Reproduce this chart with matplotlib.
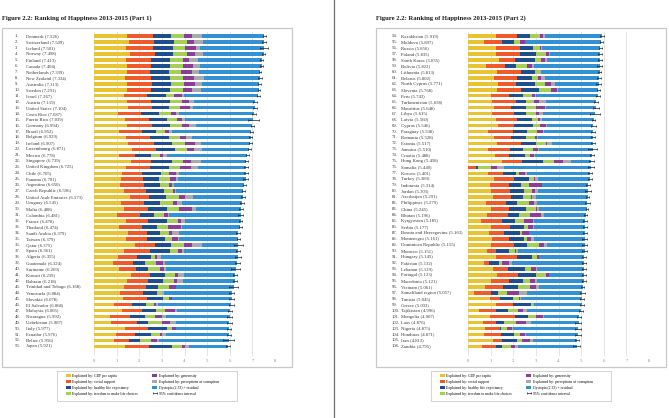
import matplotlib.pyplot as plt
from matplotlib.patches import Rectangle
from matplotlib.lines import Line2D
from matplotlib.transforms import blended_transform_factory

# data: World Happiness Report, ranking 2013-2015
countries = ['Denmark', 'Switzerland', 'Iceland', 'Norway', 'Finland', 'Canada', 'Netherlands',
             'New Zealand', 'Australia', 'Sweden', 'Israel', 'Austria', 'United States', 'Costa Rica',
             'Puerto Rico', 'Germany', 'Brazil', 'Belgium', 'Ireland', 'Luxembourg', 'Mexico',
             'Singapore', 'United Kingdom', 'Chile', 'Panama', 'Argentina', 'Czech Republic',
             'United Arab Emirates', 'Uruguay', 'Malta', 'Colombia', 'France', 'Thailand',
             'Saudi Arabia', 'Taiwan', 'Qatar', 'Spain', 'Algeria', 'Guatemala', 'Suriname', 'Kuwait',
             'Bahrain', 'Trinidad and Tobago', 'Venezuela', 'Slovakia', 'El Salvador', 'Malaysia',
             'Nicaragua', 'Uzbekistan', 'Italy', 'Ecuador', 'Belize', 'Japan',
             'Kazakhstan', 'Moldova', 'Russia', 'Poland', 'South Korea', 'Bolivia', 'Lithuania',
             'Belarus', 'North Cyprus', 'Slovenia', 'Peru', 'Turkmenistan', 'Mauritius', 'Libya',
             'Latvia', 'Cyprus', 'Paraguay', 'Romania', 'Estonia', 'Jamaica', 'Croatia', 'Hong Kong',
             'Somalia', 'Kosovo', 'Turkey', 'Indonesia', 'Jordan', 'Azerbaijan', 'Philippines', 'China',
             'Bhutan', 'Kyrgyzstan', 'Serbia', 'Bosnia and Herzegovina', 'Montenegro',
             'Dominican Republic', 'Morocco', 'Hungary', 'Pakistan', 'Lebanon', 'Portugal',
             'Macedonia', 'Vietnam', 'Somaliland region', 'Tunisia', 'Greece', 'Tajikistan',
             'Mongolia', 'Laos', 'Nigeria', 'Honduras', 'Iran', 'Zambia']

scores = [7.526, 7.509, 7.501, 7.498, 7.413, 7.404, 7.339, 7.334, 7.313, 7.291, 7.267, 7.119,
          7.104, 7.087, 7.039, 6.994, 6.952, 6.929, 6.907, 6.871, 6.778, 6.739, 6.725, 6.705,
          6.701, 6.650, 6.596, 6.573, 6.545, 6.488, 6.481, 6.478, 6.474, 6.379, 6.379, 6.375,
          6.361, 6.355, 6.324, 6.269, 6.239, 6.218, 6.168, 6.084, 6.078, 6.068, 6.005, 5.992,
          5.987, 5.977, 5.976, 5.956, 5.921,
          5.919, 5.897, 5.856, 5.835, 5.835, 5.822, 5.813, 5.802, 5.771, 5.768, 5.743, 5.658,
          5.648, 5.615, 5.560, 5.546, 5.538, 5.528, 5.517, 5.510, 5.488, 5.458, 5.440, 5.401,
          5.389, 5.314, 5.303, 5.291, 5.279, 5.245, 5.196, 5.185, 5.177, 5.163, 5.161, 5.155,
          5.151, 5.145, 5.132, 5.129, 5.123, 5.121, 5.061, 5.057, 5.045, 5.033, 4.996, 4.907,
          4.876, 4.875, 4.871, 4.813, 4.795]

ci_low = [7.460, 7.428, 7.333, 7.421, 7.351, 7.335, 7.284, 7.264, 7.241, 7.227, 7.199, 7.045,
          7.020, 6.999, 6.794, 6.930, 6.875, 6.861, 6.836, 6.799, 6.710, 6.674, 6.647, 6.615,
          6.601, 6.580, 6.531, 6.494, 6.456, 6.409, 6.384, 6.397, 6.396, 6.287, 6.305, 6.178,
          6.288, 6.227, 6.213, 6.073, 6.154, 6.128, 5.983, 5.973, 5.971, 5.967, 5.920, 5.877,
          5.896, 5.880, 5.880, 5.710, 5.850,
          5.837, 5.823, 5.789, 5.749, 5.747, 5.721, 5.734, 5.723, 5.670, 5.689, 5.647, 5.580,
          5.507, 5.406, 5.486, 5.442, 5.453, 5.427, 5.437, 5.315, 5.402, 5.362, 5.321, 5.308,
          5.299, 5.237, 5.187, 5.226, 5.160, 5.199, 5.138, 5.103, 5.083, 5.063, 5.055, 5.037,
          5.058, 5.056, 5.038, 5.036, 5.030, 5.017, 4.991, 4.934, 4.965, 4.935, 4.923, 4.838,
          4.742, 4.750, 4.750, 4.730, 4.645]

ci_high = [7.592, 7.590, 7.669, 7.575, 7.475, 7.473, 7.394, 7.404, 7.385, 7.355, 7.335, 7.193,
           7.188, 7.175, 7.284, 7.058, 7.029, 6.997, 6.978, 6.943, 6.846, 6.804, 6.803, 6.795,
           6.801, 6.720, 6.661, 6.652, 6.634, 6.567, 6.578, 6.559, 6.552, 6.471, 6.453, 6.572,
           6.434, 6.483, 6.435, 6.465, 6.324, 6.308, 6.353, 6.195, 6.185, 6.169, 6.090, 6.107,
           6.078, 6.074, 6.072, 6.202, 5.992,
           6.001, 5.971, 5.923, 5.921, 5.923, 5.923, 5.892, 5.881, 5.872, 5.847, 5.839, 5.736,
           5.789, 5.824, 5.634, 5.650, 5.623, 5.629, 5.597, 5.705, 5.574, 5.554, 5.559, 5.494,
           5.479, 5.391, 5.419, 5.356, 5.398, 5.291, 5.254, 5.267, 5.271, 5.263, 5.267, 5.273,
           5.244, 5.234, 5.226, 5.222, 5.216, 5.225, 5.131, 5.180, 5.125, 5.131, 5.069, 4.976,
           5.010, 5.000, 4.992, 4.896, 4.945]

gdp = [1.442, 1.527, 1.427, 1.577, 1.406, 1.440, 1.465, 1.361, 1.444, 1.452, 1.338, 1.450,
       1.508, 1.069, 1.359, 1.448, 1.088, 1.425, 1.483, 1.698, 1.115, 1.646, 1.403, 1.217,
       1.183, 1.151, 1.309, 1.574, 1.182, 1.308, 1.030, 1.395, 1.089, 1.490, 1.397, 1.824,
       1.343, 1.053, 0.835, 1.097, 1.617, 1.440, 1.326, 1.134, 1.280, 0.874, 1.251, 0.694,
       0.736, 1.355, 0.973, 0.876, 1.380,
       1.229, 0.692, 1.232, 1.246, 1.359, 0.794, 1.269, 1.131, 1.311, 1.299, 0.996, 1.080,
       1.144, 1.067, 1.218, 1.319, 0.894, 1.170, 1.280, 0.893, 1.186, 1.511, 0.000, 0.901,
       1.165, 0.951, 0.997, 1.124, 0.812, 1.028, 0.853, 0.560, 1.034, 0.934, 1.078, 1.028,
       0.841, 1.241, 0.688, 1.123, 1.276, 1.019, 0.740, 0.256, 0.977, 1.249, 0.488, 0.989,
       0.680, 0.752, 0.694, 1.115, 0.612]

social = [1.164, 1.145, 1.183, 1.127, 1.135, 1.096, 1.029, 1.173, 1.105, 1.088, 0.995, 1.084,
          1.048, 1.022, 1.081, 1.098, 1.039, 1.052, 1.162, 1.040, 0.715, 0.868, 1.087, 0.906,
          0.989, 1.066, 1.008, 0.871, 1.031, 1.099, 1.022, 1.005, 1.045, 0.848, 0.926, 0.880,
          1.129, 0.833, 0.871, 0.779, 0.878, 0.944, 0.986, 1.033, 1.083, 0.810, 0.880, 0.895,
          1.170, 1.042, 0.860, 0.687, 1.061,
          0.955, 0.831, 1.053, 1.047, 0.722, 0.838, 1.064, 1.050, 0.818, 1.056, 0.813, 1.026,
          0.757, 0.951, 0.950, 0.707, 1.111, 0.728, 1.052, 0.964, 0.608, 0.870, 0.336, 0.661,
          0.877, 0.876, 0.862, 0.760, 0.879, 0.794, 0.908, 0.954, 0.813, 0.644, 0.742, 0.995,
          0.386, 0.932, 0.261, 0.642, 0.944, 0.782, 0.791, 0.759, 0.432, 0.755, 0.756, 1.090,
          0.550, 0.645, 0.756, 0.389, 0.638]

health = [0.795, 0.863, 0.867, 0.796, 0.811, 0.828, 0.812, 0.831, 0.851, 0.831, 0.849, 0.806,
          0.779, 0.761, 0.778, 0.815, 0.614, 0.820, 0.815, 0.845, 0.711, 0.947, 0.810, 0.819,
          0.708, 0.697, 0.764, 0.730, 0.722, 0.803, 0.597, 0.838, 0.649, 0.593, 0.796, 0.717,
          0.879, 0.618, 0.540, 0.509, 0.636, 0.657, 0.523, 0.619, 0.704, 0.596, 0.624, 0.652,
          0.502, 0.851, 0.686, 0.456, 0.991,
          0.574, 0.523, 0.590, 0.691, 0.886, 0.470, 0.647, 0.631, 0.841, 0.792, 0.630, 0.440,
          0.662, 0.550, 0.640, 0.849, 0.583, 0.676, 0.681, 0.595, 0.705, 0.953, 0.115, 0.540,
          0.647, 0.494, 0.607, 0.545, 0.470, 0.736, 0.498, 0.554, 0.646, 0.708, 0.635, 0.577,
          0.595, 0.676, 0.403, 0.762, 0.794, 0.647, 0.662, 0.331, 0.596, 0.800, 0.531, 0.555,
          0.383, 0.051, 0.584, 0.642, 0.236]

freedom = [0.579, 0.586, 0.566, 0.596, 0.571, 0.574, 0.552, 0.581, 0.568, 0.582, 0.364, 0.544,
           0.482, 0.552, 0.468, 0.535, 0.404, 0.514, 0.540, 0.549, 0.377, 0.488, 0.500, 0.378,
           0.489, 0.423, 0.414, 0.562, 0.544, 0.550, 0.447, 0.466, 0.496, 0.379, 0.324, 0.567,
           0.375, 0.210, 0.504, 0.522, 0.432, 0.474, 0.485, 0.198, 0.234, 0.373, 0.390, 0.466,
           0.608, 0.188, 0.403, 0.512, 0.468,
           0.405, 0.252, 0.327, 0.452, 0.252, 0.510, 0.189, 0.291, 0.436, 0.532, 0.375, 0.374,
           0.461, 0.456, 0.280, 0.295, 0.462, 0.367, 0.415, 0.436, 0.239, 0.481, 0.568, 0.144,
           0.239, 0.392, 0.360, 0.353, 0.549, 0.440, 0.461, 0.402, 0.157, 0.095, 0.151, 0.552,
           0.256, 0.198, 0.146, 0.262, 0.447, 0.277, 0.560, 0.391, 0.236, 0.058, 0.434, 0.360,
           0.522, 0.279, 0.268, 0.227, 0.427]

generosity = [0.362, 0.281, 0.477, 0.379, 0.255, 0.448, 0.474, 0.494, 0.474, 0.383, 0.323, 0.329,
              0.411, 0.226, 0.222, 0.305, 0.158, 0.242, 0.450, 0.276, 0.117, 0.327, 0.502, 0.316,
              0.240, 0.110, 0.099, 0.266, 0.181, 0.562, 0.156, 0.122, 0.587, 0.155, 0.255, 0.324,
              0.177, 0.070, 0.288, 0.167, 0.160, 0.171, 0.295, 0.043, 0.138, 0.089, 0.415, 0.298,
              0.343, 0.167, 0.101, 0.237, 0.102,
              0.150, 0.200, 0.027, 0.144, 0.188, 0.217, 0.020, 0.139, 0.263, 0.257, 0.145, 0.226,
              0.370, 0.115, 0.104, 0.279, 0.253, 0.129, 0.084, 0.222, 0.184, 0.401, 0.272, 0.280,
              0.047, 0.565, 0.143, 0.046, 0.217, 0.041, 0.485, 0.384, 0.207, 0.299, 0.172, 0.216,
              0.041, 0.081, 0.312, 0.237, 0.117, 0.235, 0.251, 0.515, 0.039, 0.000, 0.242, 0.333,
              0.434, 0.232, 0.204, 0.385, 0.179]

corruption = [0.445, 0.412, 0.150, 0.358, 0.410, 0.313, 0.299, 0.419, 0.323, 0.409, 0.087, 0.213,
              0.149, 0.105, 0.123, 0.286, 0.142, 0.262, 0.298, 0.353, 0.184, 0.470, 0.274, 0.115,
              0.084, 0.073, 0.040, 0.356, 0.214, 0.176, 0.054, 0.178, 0.028, 0.300, 0.066, 0.480,
              0.061, 0.162, 0.087, 0.127, 0.237, 0.258, 0.012, 0.083, 0.029, 0.106, 0.091, 0.163,
              0.283, 0.026, 0.180, 0.108, 0.190,
              0.111, 0.019, 0.036, 0.055, 0.077, 0.077, 0.017, 0.175, 0.166, 0.036, 0.053, 0.285,
              0.052, 0.168, 0.070, 0.052, 0.074, 0.007, 0.185, 0.043, 0.040, 0.316, 0.312, 0.065,
              0.123, 0.003, 0.133, 0.179, 0.118, 0.085, 0.162, 0.048, 0.043, 0.000, 0.127, 0.120,
              0.084, 0.024, 0.139, 0.031, 0.015, 0.070, 0.116, 0.368, 0.082, 0.041, 0.156, 0.033,
              0.225, 0.031, 0.069, 0.123, 0.115]

dystopia = [2.739, 2.695, 2.831, 2.665, 2.826, 2.705, 2.707, 2.476, 2.547, 2.547, 3.310, 2.693,
            2.728, 3.352, 3.009, 2.509, 3.507, 2.614, 2.160, 2.111, 3.559, 1.994, 2.150, 2.955,
            3.006, 3.130, 2.962, 2.215, 2.671, 1.990, 3.175, 2.474, 2.580, 2.615, 2.615, 1.582,
            2.397, 3.409, 3.199, 3.069, 2.281, 2.274, 2.541, 2.975, 2.611, 3.221, 2.354, 2.824,
            2.346, 2.349, 2.774, 3.080, 1.730,
            2.493, 3.380, 2.591, 2.200, 2.350, 2.916, 2.608, 2.386, 1.934, 1.795, 2.731, 2.228,
            2.202, 2.310, 2.299, 2.045, 2.161, 2.452, 1.820, 2.357, 2.525, 0.926, 3.838, 2.810,
            2.291, 2.032, 2.201, 2.284, 2.235, 2.122, 1.829, 2.281, 2.275, 2.484, 2.255, 1.668,
            2.949, 1.993, 3.183, 2.073, 1.530, 2.090, 1.942, 2.438, 2.684, 2.129, 2.388, 1.549,
            2.090, 2.886, 2.296, 1.933, 2.590]

part_labels = ['Explained by: GDP per capita', 'Explained by: social support',
               'Explained by: healthy life expectancy', 'Explained by: freedom to make life choices',
               'Explained by: generosity', 'Explained by: perceptions of corruption',
               'Dystopia (2.33) + residual']
part_colors = ['#e8c432', '#f05a2a', '#1f4e8d', '#a5cf57', '#8b3d97', '#a8aaad', '#3290d4']
parts = [gdp, social, health, freedom, generosity, corruption, dystopia]

W, H = 669, 418
def fx(px):
    return px / W
def fy(py):
    return 1 - py / H

serif = ['Liberation Serif', 'DejaVu Serif']
plt.rcParams['font.family'] = serif

fig = plt.figure(figsize=(W / 100, H / 100), dpi=100)
fig.patch.set_facecolor('white')

# divider between the two pages
fig.add_artist(Line2D([fx(334), fx(334)], [0, 1], color='#6e6e6e', lw=0.9))

row_top, row_step = 36.0, 5.97
y_top, y_bot = -0.6, 53.6

def draw_panel(start, stop, dx, part_no):
    ax = fig.add_axes([fx(94 + dx), fy(row_top + y_bot * row_step), 181 / W,
                       (y_bot - y_top) * row_step / H])
    idx = list(range(start, stop))
    ys = list(range(len(idx)))
    left = [0.0] * len(idx)
    handles = []
    for vals, col, lab in zip(parts, part_colors, part_labels):
        v = [vals[i] for i in idx]
        b = ax.barh(ys, v, left=left, height=0.6, color=col, lw=0, zorder=3, label=lab)
        handles.append(b)
        left = [l + a for l, a in zip(left, v)]
    sc = [scores[i] for i in idx]
    err = [[scores[i] - ci_low[i] for i in idx], [ci_high[i] - scores[i] for i in idx]]
    eb = ax.errorbar(sc, ys, xerr=err, fmt='none', ecolor='#1e1e1e', elinewidth=0.5,
                     capsize=0.9, capthick=0.5, zorder=4, label='95% confidence interval')
    handles.append(eb)

    ax.set_xlim(0, 8)
    ax.set_ylim(y_bot, y_top)
    ax.set_xticks(range(9))
    ax.set_yticks([])
    ax.grid(axis='x', color='#e1e1e1', lw=0.6, zorder=0)
    ax.set_axisbelow(True)
    ax.tick_params(axis='x', length=0, pad=2, labelsize=3.4, labelcolor='#8a8a8a')
    for s in ax.spines.values():
        s.set_visible(False)

    tr = blended_transform_factory(fig.transFigure, ax.transData)
    for y, i in zip(ys, idx):
        rank_x = 15 if dx == 0 else 392
        name_x = 26 if dx == 0 else 401
        ax.text(fx(rank_x), y, f'{i + 1}.', transform=tr, ha='left', va='center',
                fontsize=3.4, color='#3a3a3a')
        ax.text(fx(name_x), y, f'{countries[i]} ({scores[i]:.3f})', transform=tr,
                ha='left', va='center', fontsize=3.4, color='#3a3a3a')

    # page title, chart frame and legend frame
    fig.text(fx(2 + dx), fy(18), f'Figure 2.2: Ranking of Happiness 2013-2015 (Part {part_no})',
             fontsize=4.8, fontweight='bold', color='#1a1a1a', ha='left', va='center')
    fig.add_artist(Rectangle((fx(2 + dx), fy(367)), 290 / W, 339 / H, transform=fig.transFigure,
                             fill=False, ec='#c8c8c8', lw=0.9))
    fig.add_artist(Rectangle((fx(57 + dx), fy(401)), 180 / W, 30 / H, transform=fig.transFigure,
                             fill=False, ec='#d2d2d2', lw=0.7))
    fig.legend(handles, [h.get_label() for h in handles], ncol=2, loc='upper left',
               bbox_to_anchor=(fx(66 + dx), fy(374)), frameon=False,
               prop={'family': serif, 'size': 2.7}, handlelength=1.3, handleheight=0.7,
               handletextpad=0.4, columnspacing=3.8, labelspacing=0.5,
               borderpad=0, borderaxespad=0)

draw_panel(0, 53, 0, 1)
draw_panel(53, 106, 374, 2)

fig.savefig('out.png', dpi=100, facecolor='white')
